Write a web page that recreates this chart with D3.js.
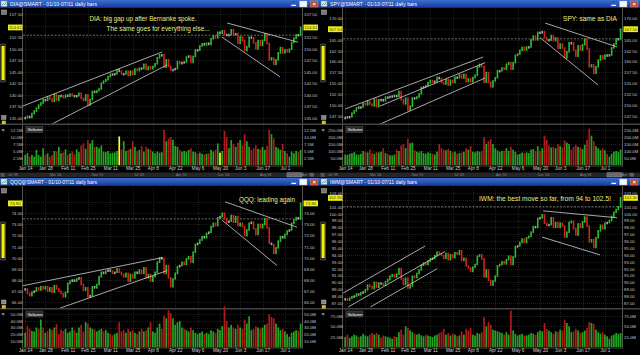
<!DOCTYPE html>
<html>
<head>
<meta charset="utf-8">
<script src="https://cdn.jsdelivr.net/npm/d3@7/dist/d3.min.js"></script>
<style>
  body { margin: 0; background: #000; }
  svg { display: block; }
  text { font-family: "Liberation Sans", Arial, sans-serif; }
</style>
</head>
<body>
<svg id="chart" width="640" height="355"></svg>
<script>
/**
 * Data: daily closes and volumes, Jan 14 - Jul 11 (124 sessions)
 */
var tickIdx = [0, 9, 19, 28, 38, 48, 57, 67, 77, 87, 96, 106, 116];
var tickDates = ['Jan 14', 'Jan 28', 'Feb 11', 'Feb 25', 'Mar 11', 'Mar 25', 'Apr 8',
    'Apr 22', 'May 6', 'May 20', 'Jun 3', 'Jun 17', 'Jul 1'];
var navLabels = ["Jul '98", "Mar '00", "Nov '01", "Jul '03", "Apr '05", "Dec '06", "Aug '08", "Apr '10"];

var diaClose = [
    135.07, 135.34, 135.11, 135.96, 136.49, 137.12, 137.79, 138.25, 138.95, 138.81,
    139.54, 139.10, 138.60, 140.09, 138.80, 139.79, 139.86, 139.44, 139.92, 139.71,
    140.18, 139.82, 139.73, 139.81, 140.35, 139.27, 138.80, 140.00, 137.84, 139.00,
    140.75, 140.54, 140.90, 141.28, 142.54, 142.96, 143.29, 143.97, 144.48, 144.50,
    144.55, 145.39, 145.14, 144.52, 144.55, 145.11, 144.21, 145.12, 144.47, 145.59,
    145.26, 145.79, 145.72, 146.62, 145.50, 146.06, 145.65, 146.13, 146.73, 148.02,
    148.65, 148.65, 145.99, 147.57, 146.19, 145.37, 145.47, 145.67, 147.19, 146.76,
    147.00, 147.12, 148.18, 148.40, 147.00, 148.31, 149.73, 149.68, 150.56, 151.05,
    150.83, 151.18, 150.91, 152.15, 152.75, 152.33, 153.54, 153.35, 153.87, 153.07,
    152.94, 153.03, 154.09, 153.02, 153.24, 151.16, 152.54, 151.77, 149.60, 150.40,
    152.48, 152.39, 151.22, 149.95, 151.76, 150.70, 151.79, 153.18, 151.12, 147.58,
    148.00, 146.60, 147.60, 149.10, 150.24, 149.10, 149.75, 149.32, 149.88, 151.36,
    152.25, 153.00, 152.91, 154.61];
var diaVol = [
    3.6, 4.2, 3.0, 3.6, 3.0, 5.4, 3.6, 3.0, 6.0, 3.6, 4.2, 3.0, 3.6,
    5.0, 4.8, 6.5, 4.2, 4.5, 5.6, 3.6, 4.2, 4.8, 3.8, 5.6, 4.6, 7.0, 7.7, 5.8, 8.9, 7.7, 8.9, 6.5,
    6.5, 6.0, 7.0, 4.8, 4.6, 5.0, 4.2, 4.4, 4.5, 5.0, 10.2, 5.5, 8.5, 5.0, 5.4, 5.8, 8.5, 6.5, 5.0, 5.4,
    6.8, 4.8, 6.5, 5.8, 5.4, 4.8, 4.2, 4.8, 4.4, 4.6, 12.6, 8.5, 9.5, 10.0, 9.0,
    6.8, 6.5, 5.4, 4.8, 5.0, 4.8, 5.4, 6.0, 4.8, 4.6, 4.0, 4.4, 4.0, 3.8,
    4.0, 4.2, 5.4, 4.8, 5.5, 7.7, 4.4, 5.0, 12.2, 10.0, 6.0, 8.9, 7.5, 6.5, 8.0,
    8.9, 7.0, 11.0, 8.5, 6.5, 5.4, 6.0, 7.0, 5.8, 5.6, 6.5, 5.4, 6.8, 12.6, 11.0,
    9.5, 6.5, 6.0, 5.4, 7.5, 5.0, 4.2, 3.0, 4.8, 4.2, 5.0, 4.6, 5.4];
var diaVolMarked = [42, 87];

var spyClose = [
    147.07, 147.23, 147.26, 148.09, 148.60, 149.26, 149.48, 149.48, 150.30, 150.02,
    150.78, 150.20, 149.81, 151.32, 149.57, 151.13, 151.21, 150.94, 151.79, 151.70,
    151.94, 152.03, 152.14, 151.98, 153.09, 151.20, 150.24, 151.56, 148.79, 149.69,
    151.60, 151.47, 151.82, 152.52, 153.98, 154.15, 154.43, 155.12, 155.62, 155.25,
    155.45, 156.32, 156.07, 155.21, 154.83, 155.87, 154.58, 155.69, 155.17, 156.38,
    156.29, 156.92, 156.22, 157.03, 155.37, 156.00, 155.33, 156.31, 156.86, 158.77,
    159.34, 158.89, 155.24, 157.46, 155.20, 154.16, 155.53, 156.25, 157.88, 157.88,
    158.52, 158.22, 159.36, 159.76, 158.27, 159.76, 161.44, 161.75, 162.60, 163.27,
    162.67, 163.37, 163.38, 165.03, 165.88, 165.05, 166.75, 166.63, 166.92, 165.54,
    165.05, 164.96, 166.01, 164.84, 165.44, 163.07, 164.04, 163.14, 160.89, 162.26,
    164.34, 164.28, 162.61, 161.25, 163.64, 162.67, 163.90, 165.18, 162.89, 158.82,
    159.24, 157.31, 158.80, 160.33, 161.32, 160.63, 161.50, 161.41, 161.54, 163.19,
    164.05, 165.23, 165.26, 167.50];
var spyVol = [
    75, 72, 80, 85, 92, 76, 74, 80, 100, 95, 90, 110, 85,
    80, 92, 90, 95, 120, 85, 78, 70, 68, 75, 110, 100, 140, 150, 120, 185, 155, 160, 105,
    95, 90, 100, 85, 80, 90, 85, 82, 75, 95, 150, 120, 110, 105, 115, 100, 90, 95, 80, 85,
    90, 95, 120, 110, 135, 95, 90, 100, 95, 100, 200, 150, 170, 185, 150,
    120, 105, 95, 100, 100, 120, 100, 130, 110, 95, 75, 80, 90, 85,
    90, 85, 110, 115, 100, 135, 100, 120, 210, 180, 140, 125, 130, 120, 150,
    135, 125, 175, 160, 150, 110, 130, 145, 130, 125, 115, 145, 180, 260, 210,
    170, 135, 120, 105, 120, 105, 80, 60, 80, 95, 100, 95, 110];

var qqqClose = [
    67.2, 66.8, 66.6, 66.9, 67.0, 67.3, 67.1, 67.4, 67.2, 67.4,
    67.0, 67.3, 66.9, 67.5, 67.2, 67.0, 66.8, 66.5, 66.9, 67.7,
    67.9, 68.0, 67.9, 68.1, 68.2, 67.6, 67.1, 67.3, 66.5, 66.6,
    67.4, 67.3, 67.6, 68.3, 68.7, 68.6, 68.8, 68.9, 68.8, 68.6,
    68.7, 69.0, 68.7, 68.5, 68.3, 68.6, 67.9, 68.5, 68.2, 68.7,
    68.6, 68.9, 68.6, 69.1, 68.2, 68.5, 67.9, 68.3, 68.7, 69.6,
    70.0, 69.9, 68.6, 69.3, 68.2, 67.4, 68.1, 68.6, 69.2, 69.3,
    69.6, 69.4, 69.9, 70.1, 69.6, 70.5, 71.2, 71.3, 71.6, 71.9,
    71.8, 72.2, 72.3, 72.8, 73.1, 72.9, 73.6, 73.7, 74.0, 73.5,
    73.2, 73.3, 73.8, 73.2, 73.7, 72.9, 73.1, 72.8, 72.0, 72.5,
    73.1, 73.2, 72.6, 72.1, 73.0, 72.7, 73.0, 73.5, 72.7, 71.3,
    71.2, 70.4, 70.9, 71.5, 71.9, 71.8, 72.1, 72.4, 72.5, 73.1,
    73.4, 73.6, 73.5, 74.9];
var qqqVol = [
    22, 32, 28, 25, 24, 30, 28, 42, 30, 22, 25, 28, 26,
    30, 35, 20, 27, 25, 28, 22, 24, 30, 26, 22, 30, 34, 24, 38, 36, 30, 28, 27,
    24, 26, 28, 24, 26, 22, 20, 18, 20, 22, 38, 24, 26, 22, 28, 24, 26, 22, 20, 24,
    28, 24, 26, 30, 38, 24, 22, 30, 36, 28, 48, 44, 56, 52, 44,
    34, 38, 40, 30, 28, 26, 24, 30, 26, 22, 20, 22, 24, 20,
    22, 20, 26, 24, 22, 28, 26, 32, 62, 40, 30, 34, 30, 28, 34,
    30, 28, 42, 36, 47, 26, 28, 32, 30, 28, 30, 34, 36, 50, 46,
    44, 36, 30, 26, 28, 24, 20, 16, 22, 24, 26, 25, 36];

var iwmClose = [
    87.6, 87.4, 87.7, 87.9, 88.0, 88.3, 88.2, 88.5, 88.6, 88.9,
    89.6, 89.4, 89.1, 90.0, 89.3, 89.9, 89.8, 89.6, 90.1, 90.4,
    90.9, 91.1, 90.8, 91.2, 92.0, 90.5, 89.7, 90.6, 89.2, 89.5,
    90.9, 90.7, 91.3, 91.8, 92.5, 92.8, 92.6, 93.1, 93.4, 93.5,
    93.9, 94.4, 94.2, 93.9, 93.5, 94.2, 93.3, 94.0, 93.6, 94.3,
    94.1, 94.6, 93.2, 93.5, 92.4, 92.1, 91.6, 92.2, 92.6, 93.8,
    94.0, 93.4, 90.8, 91.8, 90.3, 89.6, 90.2, 90.9, 92.4, 92.6,
    93.0, 92.7, 93.3, 93.8, 92.6, 93.7, 95.2, 95.3, 95.8, 96.3,
    95.8, 96.5, 96.7, 97.3, 98.1, 98.0, 99.3, 99.4, 99.8, 98.6,
    98.3, 98.4, 99.4, 98.0, 98.7, 98.0, 98.6, 98.2, 96.6, 97.3,
    98.7, 98.9, 97.8, 96.9, 98.5, 98.0, 98.8, 99.5, 98.2, 95.9,
    96.2, 95.1, 96.5, 97.5, 98.3, 97.8, 98.6, 98.7, 99.0, 99.6,
    100.2, 100.6, 101.0, 102.3];
var iwmVol = [
    24, 30, 22, 26, 30, 28, 24, 26, 32, 28, 26, 30, 34,
    30, 34, 30, 22, 28, 26, 24, 22, 20, 26, 24, 36, 42, 30, 50, 46, 40, 36, 32,
    30, 32, 28, 26, 30, 28, 26, 24, 28, 30, 34, 36, 44, 30, 34, 28, 32, 30, 26, 28,
    38, 30, 44, 40, 46, 30, 28, 34, 32, 36, 72, 50, 60, 54, 42,
    40, 38, 36, 34, 30, 36, 30, 88, 40, 32, 28, 30, 32, 28,
    28, 30, 34, 32, 30, 36, 40, 38, 58, 44, 40, 36, 32, 38, 36,
    42, 40, 66, 58, 50, 36, 38, 44, 40, 34, 36, 40, 46, 60, 58,
    56, 42, 36, 32, 36, 30, 26, 20, 28, 30, 34, 32, 34];

// trend lines drawn on the charts: [session, price, session, price]
var diaLines = [[-1, 137.6, 61.2, 149.3], [11.2, 133.5, 63.4, 146.5],
    [90.2, 155.55, 121.9, 151.4], [87.9, 152.5, 113.8, 143.9]];
var spyLines = [[0, 149.05, 61.6, 161.06], [15.6, 149.75, 62.5, 159.75], [14.7, 145.36, 62.5, 156.2],
    [89.3, 168.9, 121.4, 163.4], [87.1, 165.5, 112.9, 154.6]];
var qqqLines = [[-1.3, 67.48, 61.6, 70.03], [15.6, 65.48, 63.4, 68.85],
    [89.3, 75.03, 121.4, 72.75], [87.9, 73.39, 112.5, 69.3]];
var iwmLines = [[-0.9, 88.45, 35.7, 95.29], [1.3, 86.42, 44.6, 94.5], [11.2, 86.42, 41.1, 92.0],
    [88.4, 100.4, 121.4, 99.4], [87.9, 96.6, 113.8, 94.0]];

var notes = {
    DIA: ['DIA: big gap up after Bernanke spoke.', 'The same goes for everything else...'],
    SPY: ['SPY: same as DIA'],
    QQQ: ['QQQ: leading again'],
    IWM: ['IWM: the best move so far, from 94 to 102.5!']
};

/**
 * Layout
 */
var svg = d3.select('#chart');
var rows = {
    top: {oy: 0, paneTop: 9.5, paneBot: 123.5, volTop: 125, volBot: 165.5, dateY: 171.2, nav: true},
    bottom: {oy: 178, paneTop: 188, paneBot: 308, volTop: 309.5, volBot: 347.5, dateY: 353, nav: false}
};

var panels = [
    {sym: 'DIA', ox: 0, row: rows.top, close: diaClose, vol: diaVol, lines: diaLines,
        pDom: [135, 157.5], pRng: [118, 14], pTicks: d3.range(135, 157.6, 2.5), pFmt: '.2f',
        vDom: [0, 12.5], vRng: [165, 130], vTicks: [2.5, 5, 7.5, 10, 12.5],
        notePos: [[143, 21], [158, 31]], noteW: [107, 103]},
    {sym: 'SPY', ox: 320, row: rows.top, close: spyClose, vol: spyVol, lines: spyLines,
        pDom: [147.5, 170], pRng: [115.7, 18.3], pTicks: d3.range(147.5, 170.1, 2.5), pFmt: '.2f',
        vDom: [0, 250], vRng: [165, 130], vTicks: [50, 100, 150, 200, 250],
        notePos: [[590, 21]], noteW: [54]},
    {sym: 'QQQ', ox: 0, row: rows.bottom, close: qqqClose, vol: qqqVol, lines: qqqLines,
        pDom: [66, 74], pRng: [302.3, 213.3], pTicks: d3.range(66, 75.1, 1), pFmt: '.2f',
        vDom: [0, 50], vRng: [347.3, 314.3], vTicks: [10, 20, 30, 40, 50],
        notePos: [[267, 202]], noteW: [56]},
    {sym: 'IWM', ox: 320, row: rows.bottom, close: iwmClose, vol: iwmVol, lines: iwmLines,
        pDom: [87, 103], pRng: [303, 193], pTicks: d3.range(87, 103.1, 1), pFmt: '.2f',
        vDom: [0, 75], vRng: [347.05, 316], vTicks: [25, 50, 75],
        notePos: [[545, 200.5]], noteW: [132]}
];

var defs = svg.append('defs');
var grad = defs.append('linearGradient').attr('id', 'titleGrad')
    .attr('x1', 0).attr('y1', 0).attr('x2', 0).attr('y2', 1);
grad.append('stop').attr('offset', '0%').attr('stop-color', '#3a6fd0');
grad.append('stop').attr('offset', '100%').attr('stop-color', '#15389a');

svg.append('rect').attr('width', 640).attr('height', 355).attr('fill', '#000');

panels.forEach(drawPanel);

function drawPanel(p, k) {
    var r = p.row, ox = p.ox, oy = r.oy;
    var left = ox + 23, right = ox + 302;
    var g = svg.append('g');

    var x = d3.scaleLinear().domain([0, 123]).range([ox + 25.2, ox + 300.6]);
    var y = d3.scaleLinear().domain(p.pDom).range(p.pRng);
    var vy = d3.scaleLinear().domain(p.vDom).range(p.vRng);
    var last = p.close[p.close.length - 1];
    // tick labels hidden under the last-price tag, as in the terminal
    var shownTicks = p.pTicks.filter(function(t) { return Math.abs(y(t) - y(last)) > 4.5; });

    defs.append('clipPath').attr('id', 'clip' + k).append('rect')
        .attr('x', left).attr('y', r.paneTop).attr('width', right - left).attr('height', r.paneBot - r.paneTop);

    // grid
    var grid = g.append('g').attr('stroke', '#333').attr('stroke-width', 0.6).attr('stroke-dasharray', '1,1');
    grid.selectAll('.hg').data(p.pTicks.filter(function(t) { return y(t) > r.paneTop; })).enter().append('line')
        .attr('x1', left).attr('x2', right)
        .attr('y1', function(d) { return Math.round(y(d)) + 0.5; })
        .attr('y2', function(d) { return Math.round(y(d)) + 0.5; });
    grid.selectAll('.vhg').data(p.vTicks).enter().append('line')
        .attr('x1', left).attr('x2', right)
        .attr('y1', function(d) { return Math.round(vy(d)) + 0.5; })
        .attr('y2', function(d) { return Math.round(vy(d)) + 0.5; });
    grid.selectAll('.vg').data(tickIdx).enter().append('line')
        .attr('x1', function(d) { return Math.round(x(d)) + 0.5; })
        .attr('x2', function(d) { return Math.round(x(d)) + 0.5; })
        .attr('y1', r.paneTop).attr('y2', r.volBot);

    // frame lines
    var fr = g.append('g').attr('stroke', '#555').attr('stroke-width', 1);
    fr.append('line').attr('x1', left - 0.5).attr('x2', left - 0.5).attr('y1', oy + 8).attr('y2', r.volBot + 1);
    fr.append('line').attr('x1', right + 0.5).attr('x2', right + 0.5).attr('y1', oy + 8).attr('y2', r.volBot + 1);
    fr.append('line').attr('x1', ox).attr('x2', ox + 320).attr('y1', r.paneBot + 0.8).attr('y2', r.paneBot + 0.8)
        .attr('stroke', '#444').attr('stroke-width', 1.5);
    fr.append('line').attr('x1', left).attr('x2', right).attr('y1', r.volBot + 0.5).attr('y2', r.volBot + 0.5)
        .attr('stroke', '#444');

    // previous close dashed line
    var prev = p.close[p.close.length - 2];
    g.append('line').attr('x1', left).attr('x2', right)
        .attr('y1', y(prev)).attr('y2', y(prev))
        .attr('stroke', '#8a8a8a').attr('stroke-width', 0.8).attr('stroke-dasharray', '2,1.5');

    // candles
    var bars = p.close.map(function(c, i) {
        var o = i > 0 ? p.close[i - 1] : c;
        var dir = Math.abs(c - o) / c < 0.0018 ? 0 : (c > o ? 1 : -1);
        return {i: i, o: o, c: c, v: p.vol[i], dir: dir};
    });
    var cg = g.append('g').attr('clip-path', 'url(#clip' + k + ')');
    cg.selectAll('.candle').data(bars).enter().append('rect')
        .attr('x', function(d) { return x(d.i) - 0.8; })
        .attr('width', 1.6)
        .attr('y', function(d) { return Math.min(y(d.o), y(d.c)) - 0.8; })
        .attr('height', function(d) { return Math.max(2.5, Math.abs(y(d.o) - y(d.c)) + 1.6); })
        .attr('fill', function(d) { return d.dir > 0 ? '#2cbf2c' : (d.dir < 0 ? '#d42020' : '#a8a8a8'); });

    // trend lines
    cg.selectAll('.trend').data(p.lines).enter().append('line')
        .attr('x1', function(d) { return x(d[0]); }).attr('y1', function(d) { return y(d[1]); })
        .attr('x2', function(d) { return x(d[2]); }).attr('y2', function(d) { return y(d[3]); })
        .attr('stroke', '#d0d0d0').attr('stroke-width', 0.8);

    // volume
    g.selectAll('.vol').data(bars).enter().append('rect')
        .attr('x', function(d) { return x(d.i) - 0.85; })
        .attr('width', 1.7)
        .attr('y', function(d) { return vy(d.v); })
        .attr('height', function(d) { return vy(0) - vy(d.v); })
        .attr('fill', function(d) {
            if (p.sym === 'DIA' && diaVolMarked.indexOf(d.i) >= 0) return '#ffff20';
            return d.c >= d.o ? '#22a522' : '#b01a1a';
        });

    // volume tag
    g.append('rect').attr('x', left + 3).attr('y', r.volTop + 1.5).attr('width', 17).attr('height', 6)
        .attr('fill', '#2a2a2a').attr('stroke', '#555').attr('stroke-width', 0.5);
    g.append('text').attr('x', left + 4.5).attr('y', r.volTop + 6).attr('font-size', 4.3)
        .attr('font-weight', 'bold').attr('fill', '#ddd').text('Volume');

    // axes
    function styleAxis(sel) {
        sel.select('.domain').remove();
        sel.selectAll('text').attr('fill', '#c4c4c4').attr('font-size', 4.3)
            .attr('font-family', '"Liberation Sans", Arial, sans-serif');
    }
    var fmt = d3.format(p.pFmt);
    var la = g.append('g').attr('transform', 'translate(' + (ox + 22.5) + ',0)')
        .call(d3.axisLeft(y).tickValues(shownTicks).tickSize(0).tickPadding(0).tickFormat(fmt));
    styleAxis(la);
    var ra = g.append('g').attr('transform', 'translate(' + (ox + 304) + ',0)')
        .call(d3.axisRight(y).tickValues(shownTicks).tickSize(0).tickPadding(0).tickFormat(fmt));
    styleAxis(ra);
    var vfmt = function(d) { return d3.format('.1f')(d) + 'M'; };
    var lv = g.append('g').attr('transform', 'translate(' + (ox + 22.5) + ',0)')
        .call(d3.axisLeft(vy).tickValues(p.vTicks).tickSize(0).tickPadding(0).tickFormat(vfmt));
    styleAxis(lv);
    var rv = g.append('g').attr('transform', 'translate(' + (ox + 304) + ',0)')
        .call(d3.axisRight(vy).tickValues(p.vTicks).tickSize(0).tickPadding(0).tickFormat(vfmt));
    styleAxis(rv);
    var da = g.append('g').attr('transform', 'translate(0,' + (r.dateY - 4.3) + ')')
        .call(d3.axisBottom(x).tickValues(tickIdx).tickSize(0).tickPadding(0)
            .tickFormat(function(d, i) { return tickDates[i]; }));
    styleAxis(da);
    da.selectAll('text').attr('font-size', 4.6).attr('fill', '#d0d0d0');

    // last price tags
    [ox + 8, ox + 303.5].forEach(function(tx) {
        g.append('rect').attr('x', tx).attr('y', y(last) - 2.8).attr('width', 14.5).attr('height', 5.8)
            .attr('fill', '#f2f200');
        g.append('text').attr('x', tx + 7.25).attr('y', y(last) + 1.6).attr('text-anchor', 'middle')
            .attr('font-size', 4.3).attr('fill', '#333').text(fmt(last));
    });

    // notes
    notes[p.sym].forEach(function(t, j) {
        g.append('text').attr('x', p.notePos[j][0]).attr('y', p.notePos[j][1])
            .attr('text-anchor', 'middle')
            .attr('font-family', '"Liberation Serif", "Times New Roman", serif')
            .attr('font-size', 7.6).attr('fill', '#ecec8a')
            .attr('textLength', p.noteW[j]).attr('lengthAdjust', 'spacingAndGlyphs')
            .text(t);
    });

    // left tool column
    g.append('rect').attr('x', ox + 1.5).attr('y', r.paneTop + 0.5).attr('width', 5).attr('height', 4.5)
        .attr('fill', '#777').attr('stroke', '#bbb').attr('stroke-width', 0.5);
    g.append('rect').attr('x', ox + 0.8).attr('y', oy + 44).attr('width', 4.6).attr('height', 38)
        .attr('fill', '#222').attr('stroke', '#666').attr('stroke-width', 0.6);
    g.append('rect').attr('x', ox + 1.6).attr('y', oy + 46).attr('width', 3).attr('height', 34)
        .attr('fill', '#f5f500');
    g.append('rect').attr('x', ox + 1.5).attr('y', r.paneBot - 8).attr('width', 4.5).attr('height', 4)
        .attr('fill', '#888').attr('stroke', '#ccc').attr('stroke-width', 0.4);
    g.append('rect').attr('x', ox + 1.8).attr('y', r.paneBot - 2.8).attr('width', 4).attr('height', 3.4)
        .attr('fill', '#d8c020');
    g.append('text').attr('x', ox + 1.5).attr('y', r.volTop + 6.5).attr('font-size', 5.5)
        .attr('font-weight', 'bold').attr('fill', '#bbb').text('\u00d7');

    // navigator strip
    if (r.nav) {
        var ny = oy + 172.5;
        g.append('rect').attr('x', ox).attr('y', ny).attr('width', 320).attr('height', 4.8).attr('fill', '#262626');
        g.append('rect').attr('x', ox + 287).attr('y', ny + 0.3).attr('width', 15).attr('height', 4.2)
            .attr('fill', '#6a6a6a').attr('stroke', '#aaa').attr('stroke-width', 0.4);
        g.append('rect').attr('x', ox + 0.5).attr('y', ny + 0.5).attr('width', 4).attr('height', 3.8).attr('fill', '#555');
        g.append('rect').attr('x', ox + 310).attr('y', ny + 0.5).attr('width', 4).attr('height', 3.8).attr('fill', '#555');
        navLabels.forEach(function(t, j) {
            g.append('text').attr('x', ox + 8 + j * 42).attr('y', ny + 3.8).attr('font-size', 3.4)
                .attr('fill', '#888').text(t);
        });
    }

    // title bar
    g.append('rect').attr('x', ox).attr('y', oy).attr('width', 320).attr('height', 7.8)
        .attr('fill', 'url(#titleGrad)');
    g.append('rect').attr('x', ox + 1).attr('y', oy + 1).attr('width', 6).attr('height', 5.5)
        .attr('fill', '#dfe8f0').attr('stroke', '#7a8a9a').attr('stroke-width', 0.4);
    g.append('polyline').attr('points', [ox + 1.8, oy + 5.6, ox + 3.5, oy + 3.5, ox + 4.8, oy + 4.6, ox + 6.3, oy + 2].join(','))
        .attr('fill', 'none').attr('stroke', '#2a8a3a').attr('stroke-width', 0.6);
    g.append('text').attr('x', ox + 10).attr('y', oy + 5.8).attr('font-size', 5.6).attr('fill', '#fff')
        .attr('textLength', 87).attr('lengthAdjust', 'spacingAndGlyphs')
        .text(p.sym + '@SMART - 01/10-07/11 daily bars');
    g.append('rect').attr('x', ox + 290).attr('y', oy + 1.2).attr('width', 8).attr('height', 5.6)
        .attr('fill', '#2d5bc0');
    g.append('rect').attr('x', ox + 291.5).attr('y', oy + 4.8).attr('width', 4.5).attr('height', 1.2).attr('fill', '#fff');
    g.append('rect').attr('x', ox + 299.5).attr('y', oy + 1).attr('width', 7.5).attr('height', 6)
        .attr('fill', '#f4f6fb').attr('stroke', '#9ab').attr('stroke-width', 0.4);
    g.append('rect').attr('x', ox + 310.5).attr('y', oy + 1).attr('width', 7.5).attr('height', 6)
        .attr('fill', '#c2492d').attr('stroke', '#e8a08a').attr('stroke-width', 0.4);
    g.append('text').attr('x', ox + 314.25).attr('y', oy + 6).attr('text-anchor', 'middle')
        .attr('font-size', 6).attr('font-weight', 'bold').attr('fill', '#fff').text('\u00d7');
}
</script>
</body>
</html>
